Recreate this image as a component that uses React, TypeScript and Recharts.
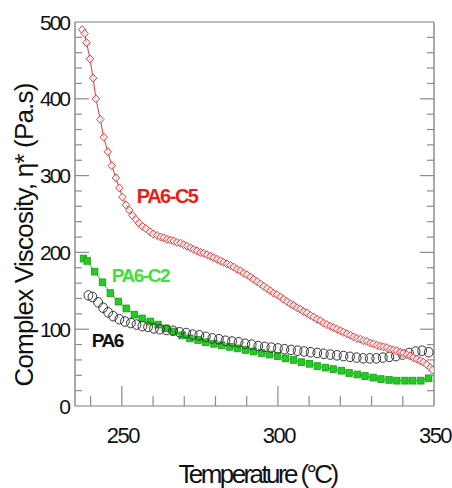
import { LineChart, Line, XAxis, YAxis, ReferenceLine, ReferenceDot } from 'recharts';

// Complex viscosity vs temperature sweep for neat PA6 and two composites.

const c5Temps = [
  237.3, 238.1, 238.7, 239.8, 240.8, 241.7, 243.1, 244.2, 245.5, 246.8,
  248.1, 249.2, 250.2, 251.3, 252.4, 253.4, 254.5, 255.5, 256.6, 257.7,
  259.0, 260.0, 261.3, 262.4, 263.4, 264.5, 265.6, 266.6, 267.7, 268.8,
  269.8, 270.9, 272.0, 273.0, 274.1, 275.2, 276.2, 277.3, 278.4, 279.4,
  280.5, 281.6, 282.6, 283.7, 284.8, 285.8, 286.9, 288.0, 289.0, 290.1,
  291.2, 292.2, 293.3, 294.4, 295.4, 296.5, 297.6, 298.6, 299.7, 300.8,
  301.8, 302.9, 304.0, 305.0, 306.1, 307.2, 308.2, 309.3, 310.4, 311.4,
  312.5, 313.6, 314.6, 315.7, 316.8, 317.8, 318.9, 320.0, 321.0, 322.1,
  323.2, 324.2, 325.3, 326.4, 327.4, 328.5, 329.6, 330.6, 331.7, 332.8,
  333.8, 334.9, 336.0, 337.0, 338.1, 339.2, 340.2, 341.3, 342.4, 343.4,
  344.5, 345.6, 346.6, 347.7, 348.8, 349.5,
];
const c5Visc = [
  490, 485, 473, 452, 427, 400, 373, 350, 331, 313,
  297, 284, 272, 262, 255, 248, 243, 238, 234, 231,
  227, 224, 222, 220, 219, 217, 216, 215, 213, 212,
  210, 208, 206, 204, 202, 200, 199, 197, 195, 193,
  191, 189, 187, 185, 183, 181, 178, 176, 173, 171,
  168, 165, 162, 159, 156, 153, 150, 147, 145, 142,
  139, 136, 133, 131, 128, 126, 123, 121, 118, 116,
  113, 111, 108, 106, 104, 102, 100, 98, 96, 94,
  92, 90, 88, 87, 85, 84, 82, 81, 79, 78,
  77, 76, 74, 73, 72, 70, 69, 67, 65, 63,
  61, 59, 57, 54, 50, 47,
];

const c2Temps = [
  237.7, 238.9, 241.3, 243.8, 246.3, 248.9, 251.4, 254.0, 256.5, 259.1,
  261.6, 264.2, 266.7, 269.3, 271.8, 274.4, 276.9, 279.5, 282.0, 284.6,
  287.1, 289.7, 292.2, 294.8, 297.3, 299.9, 302.4, 305.0, 307.5, 310.1,
  312.6, 315.2, 317.7, 320.3, 322.8, 325.4, 327.9, 330.5, 333.0, 335.6,
  338.1, 340.7, 343.2, 345.8, 348.3,
];
const c2Visc = [
  192, 189, 175, 161, 147, 136, 127, 119, 114, 110,
  106, 101, 97, 92, 88, 86, 83, 81, 79, 77,
  75, 73, 71, 69, 67, 65, 62, 60, 57, 55,
  52, 50, 48, 46, 43, 41, 39, 37, 35, 34,
  33, 33, 33, 33, 36,
];

const pa6Temps = [
  239.3, 240.6, 242.4, 244.0, 245.6, 247.2, 249.2, 251.0, 252.9, 254.7,
  256.6, 258.4, 260.3, 262.2, 264.3, 266.4, 268.5, 270.6, 272.7, 274.8,
  276.9, 279.0, 281.1, 283.2, 285.3, 287.4, 289.5, 291.6, 293.7, 295.8,
  297.9, 300.0, 302.1, 304.2, 306.3, 308.4, 310.5, 312.6, 314.7, 316.8,
  318.9, 321.0, 323.1, 325.2, 327.3, 329.4, 331.5, 333.6, 335.7, 337.8,
  339.9, 342.0, 344.1, 346.2, 348.3,
];
const pa6Visc = [
  144, 142, 135, 128, 122, 117, 113, 110, 108, 106,
  104, 103, 101, 100, 99, 98, 96, 95, 93, 92,
  90, 88, 87, 85, 84, 83, 81, 80, 78, 77,
  76, 75, 74, 73, 72, 71, 70, 69, 68, 67,
  66, 65, 64, 63, 62, 62, 62, 63, 64, 65,
  67, 69, 71, 72, 70,
];

const xTicks = [240, 250, 260, 270, 280, 290, 300, 310, 320, 330, 340, 350];
const yTicks = [0, 20, 40, 60, 80, 100, 120, 140, 160, 180, 200, 220, 240, 260, 280, 300, 320, 340, 360, 380, 400, 420, 440, 460, 480, 500];

const toRows = (ts: number[], vs: number[]) => ts.map((t, i) => ({ t, v: vs[i] }));
const c5Data = toRows(c5Temps, c5Visc);
const c2Data = toRows(c2Temps, c2Visc);
const pa6Data = toRows(pa6Temps, pa6Visc);

const FONT = '"Liberation Sans", Arial, sans-serif';
const GRAY = '#8c8c8c';
const LAVENDER = '#a3a5d6';
const PLOT_W = 359;

function Diamond(props: any) {
  const { cx, cy } = props;
  if (cx == null || cy == null) return <g />;
  const rx = 3.7;
  const ry = 4;
  return (
    <polygon
      points={`${cx},${cy - ry} ${cx + rx},${cy} ${cx},${cy + ry} ${cx - rx},${cy}`}
      fill="#fff"
      fillOpacity={0.7}
      stroke="#e0393b"
      strokeWidth={1}
    />
  );
}

function Ring(props: any) {
  const { cx, cy } = props;
  if (cx == null || cy == null) return <g />;
  return <ellipse cx={cx} cy={cy} rx={4.4} ry={4.8} fill="none" stroke="#333" strokeWidth={1} />;
}

function Square(props: any) {
  const { cx, cy } = props;
  if (cx == null || cy == null) return <g />;
  return <rect x={cx - 3.2} y={cy - 3.4} width={6.4} height={6.8} fill="#22cc22" stroke="#179a17" strokeWidth={0.8} />;
}

function XTick({ x, y, payload }: any) {
  const v = payload.value;
  const major = v % 50 === 0;
  return (
    <g>
      {v < 350 && <line x1={x} x2={x} y1={y} y2={y - (major ? 20 : 10)} stroke={GRAY} strokeWidth={1.2} />}
      {major && (
        <text x={x + 1} y={y + 37} textAnchor="middle" fontFamily={FONT} fontSize={22} letterSpacing={-1.5} fill="#111">
          {v}
        </text>
      )}
    </g>
  );
}

function YTick({ x, y, payload }: any) {
  const v = payload.value;
  const major = v % 100 === 0;
  const len = major ? 14 : 7;
  return (
    <g>
      {v > 0 && v < 500 && (
        <>
          <line x1={x} x2={x + len} y1={y} y2={y} stroke={GRAY} strokeWidth={1.2} />
          <line x1={x + PLOT_W} x2={x + PLOT_W - len} y1={y} y2={y} stroke={GRAY} strokeWidth={1.2} />
        </>
      )}
      {major && (
        <text x={x - 6} y={y} dy="0.36em" textAnchor="end" fontFamily={FONT} fontSize={21} letterSpacing={-2} fill="#111">
          {v}
        </text>
      )}
    </g>
  );
}

function seriesLabel(text: string, color: string, size: number) {
  return (p: any) => (
    <text x={p.cx} y={p.cy} fontFamily={FONT} fontWeight="bold" fontSize={size} letterSpacing={-1.5} fill={color}>
      {text}
    </text>
  );
}

export default function App() {
  return (
    <div style={{ position: 'absolute', left: 0, top: 0, background: '#fff' }}>
      <LineChart width={452} height={488} margin={{ top: 22, right: 18, bottom: 0, left: 0 }}>
        <XAxis
          type="number"
          dataKey="t"
          domain={[235, 350]}
          allowDataOverflow
          ticks={xTicks}
          interval={0}
          tickSize={0}
          tickMargin={0}
          tickLine={false}
          height={82}
          axisLine={{ stroke: LAVENDER, strokeWidth: 1.5 }}
          tick={<XTick />}
          label={{
            content: ({ viewBox }: any) => (
              <text
                x={viewBox.x + viewBox.width / 2 + 3}
                y={viewBox.y + 77}
                textAnchor="middle"
                fontFamily={FONT}
                fontSize={26}
                letterSpacing={-2.6}
                fill="#111"
              >
                Temperature (°C)
              </text>
            ),
          }}
        />
        <YAxis
          type="number"
          domain={[0, 500]}
          allowDataOverflow
          ticks={yTicks}
          interval={0}
          tickSize={0}
          tickMargin={0}
          tickLine={false}
          width={75}
          axisLine={{ stroke: GRAY, strokeWidth: 1.5 }}
          tick={<YTick />}
          label={{
            content: ({ viewBox }: any) => {
              const lx = viewBox.x + 33;
              const ly = viewBox.y + viewBox.height / 2 + 21;
              return (
                <text
                  x={lx}
                  y={ly}
                  transform={`rotate(-90, ${lx}, ${ly})`}
                  textAnchor="middle"
                  fontFamily={FONT}
                  fontSize={26}
                  letterSpacing={-0.8}
                  fill="#111"
                >
                  Complex Viscosity, η* (Pa.s)
                </text>
              );
            },
          }}
        />
        <ReferenceLine y={500} stroke={LAVENDER} strokeWidth={1.5} />
        <ReferenceLine x={350} stroke={GRAY} strokeWidth={1.5} />

        <Line data={c2Data} dataKey="v" type="linear" stroke="#2fbf2f" strokeWidth={1} dot={(p: any) => <Square key={p.index} {...p} />} activeDot={false} isAnimationActive={false} />
        <Line data={pa6Data} dataKey="v" type="linear" stroke="none" dot={(p: any) => <Ring key={p.index} {...p} />} activeDot={false} isAnimationActive={false} />
        <Line data={c5Data} dataKey="v" type="linear" stroke="#e0393b" strokeWidth={1} dot={(p: any) => <Diamond key={p.index} {...p} />} activeDot={false} isAnimationActive={false} />

        <ReferenceDot x={254.8} y={264} r={0} shape={seriesLabel('PA6-C5', '#ee1b1b', 20)} />
        <ReferenceDot x={246.8} y={162} r={0} shape={seriesLabel('PA6-C2', '#3ae23a', 19)} />
        <ReferenceDot x={240.4} y={77} r={0} shape={seriesLabel('PA6', '#111', 19)} />
      </LineChart>
    </div>
  );
}
